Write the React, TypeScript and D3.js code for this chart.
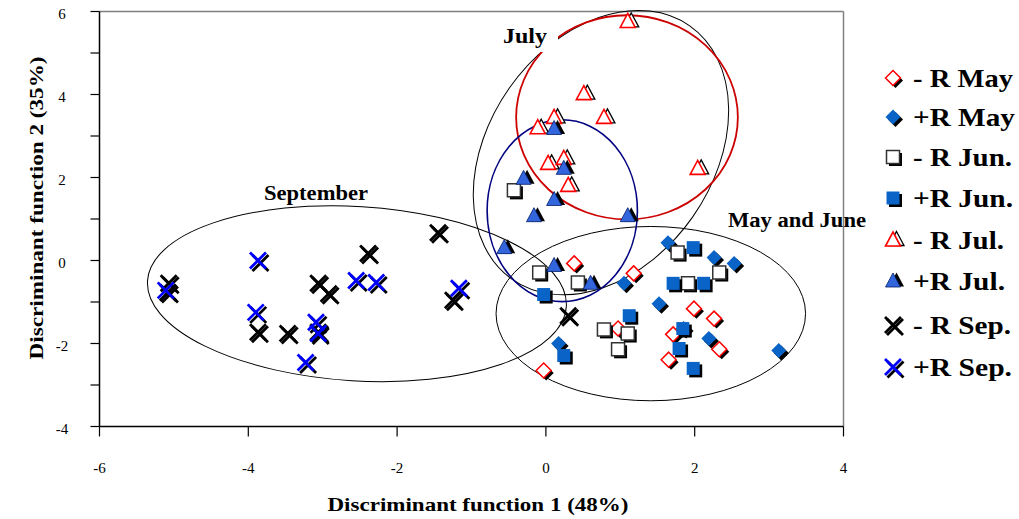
import React from "react";
import * as d3 from "d3";

// ---- data (discriminant function scores) ----
const minusMay: [number, number][] = [
  [0.38, -0.07], [1.18, -0.31], [1.99, -1.16], [2.26, -1.40], [1.71, -1.78],
  [2.33, -2.14], [1.65, -2.39], [-0.03, -2.65], [0.97, -1.64],
];
const plusMay: [number, number][] = [
  [1.64, 0.43], [2.26, 0.07], [2.53, -0.07], [1.05, -0.55], [1.52, -1.04],
  [2.19, -1.88], [3.13, -2.17], [0.17, -2.0], [1.85, -1.64],
];
const minusJun: [number, number][] = [
  [-0.43, 1.69], [-0.09, -0.29], [0.43, -0.53], [1.77, 0.19], [2.33, -0.29],
  [1.91, -0.55], [0.78, -1.66], [1.1, -1.76], [0.97, -2.14],
];
const plusJun: [number, number][] = [
  [-0.03, -0.82], [1.98, 0.31], [1.71, -0.55], [2.12, -0.55], [1.12, -1.33],
  [1.84, -1.64], [1.79, -2.12], [1.98, -2.6], [0.24, -2.29],
];
const minusJul: [number, number][] = [
  [1.1, 5.76], [0.51, 4.02], [0.78, 3.45], [0.11, 3.45], [-0.11, 3.2],
  [2.04, 2.22], [0.03, 2.34], [0.24, 2.46], [0.3, 1.81],
];
const plusJul: [number, number][] = [
  [0.6, -0.55], [0.11, 3.18], [0.24, 2.22], [-0.3, 1.98], [0.11, 1.47],
  [-0.16, 1.08], [1.1, 1.08], [-0.56, 0.31], [0.11, -0.12],
];
const minusSep: [number, number][] = [
  [-5.07, -0.55], [-5.08, -0.77], [-3.87, -1.73], [-3.47, -1.76], [-3.06, -0.55],
  [-2.92, -0.8], [-3.06, -1.73], [-2.39, 0.17], [-1.45, 0.67], [-1.25, -0.96],
  [0.3, -1.33],
];
const plusSep: [number, number][] = [
  [-5.11, -0.72], [-3.87, 0.0], [-3.9, -1.25], [-3.09, -1.49], [-3.06, -1.76],
  [-3.23, -2.46], [-2.55, -0.48], [-2.28, -0.53], [-1.17, -0.67],
];

// group ellipses: centre (data), radii (data units), rotation (deg)
const ellipseNames = ["September", "MayJune", "JulyAll", "JulyMinus", "JulyPlus"];
const ellipseCentres: [number, number][] = [[-2.54, -0.8], [1.41, -1.28], [0.74, 2.6], [1.09, 3.45], [0.22, 1.2]];
const ellipseRadii: [number, number][] = [[2.82, 2.1], [2.08, 2.1], [2.08, 2.7], [1.49, 2.46], [1.01, 2.19]];
const ellipseAngles = [3.5, 0, -55, 0, 0];

const xTicks = [-6, -4, -2, 0, 2, 4];
const yTicks = [-4, -3, -2, -1, 0, 1, 2, 3, 4, 5, 6];
const yTickLabels = [-4, -2, 0, 2, 4, 6];

const legendLabels = ["- R May", "+R May", "- R Jun.", "+R Jun.", "- R Jul.", "+R Jul.", "- R Sep.", "+R Sep."];
const groupLabels = ["July", "September", "May and June"];

const FONT = "'Times New Roman', 'Liberation Serif', serif";
const BLUE = "#0a64c8";

const x = d3.scaleLinear().domain([-6, 4]).range([99.5, 843.5]);
const y = d3.scaleLinear().domain([-4, 6]).range([426.5, 11.5]);

type Kind = "mMay" | "pMay" | "mJun" | "pJun" | "mJul" | "pJul" | "mSep" | "pSep";

const diamond = "M0,-7.5L7.5,0L0,7.5L-7.5,0Z";
const square = "M-6.5,-6.5H6.5V6.5H-6.5Z";
const tri = "M0,-8L7.5,6L-7.5,6Z";
const cross = "M-8,-8L8,8M8,-8L-8,8";

function Marker({ kind, cx, cy }: { kind: Kind; cx: number; cy: number }) {
  const t = (dx: number, dy: number) => `translate(${cx + dx},${cy + dy})`;
  switch (kind) {
    case "mMay":
      return (
        <g>
          <path d={diamond} transform={t(2.5, 2.5)} fill="#000" />
          <path d={diamond} transform={t(0, 0)} fill="#fff" stroke="#ff0000" strokeWidth={1.5} />
        </g>
      );
    case "pMay":
      return (
        <g>
          <path d={diamond} transform={t(2.5, 2.5)} fill="#000" />
          <path d={diamond} transform={t(0, 0)} fill={BLUE} />
        </g>
      );
    case "mJun":
      return (
        <g>
          <path d={square} transform={t(2.5, 2.5)} fill="#000" />
          <path d={square} transform={t(0, 0)} fill="#fff" stroke="#333" strokeWidth={1.5} />
        </g>
      );
    case "pJun":
      return (
        <g>
          <path d={square} transform={t(2.5, 2.5)} fill="#000" />
          <path d={square} transform={t(0, 0)} fill={BLUE} />
        </g>
      );
    case "mJul":
      return (
        <g>
          <path d={tri} transform={t(3.5, -0.5)} fill="#fff" stroke="#000" strokeWidth={1.3} />
          <path d={tri} transform={t(0, 0)} fill="#fff" stroke="#ff0000" strokeWidth={1.6} />
        </g>
      );
    case "pJul":
      return (
        <g>
          <path d={tri} transform={t(3.5, -0.5)} fill="#000" />
          <path d={tri} transform={t(0, 0)} fill="#3366dd" stroke="#001a66" strokeWidth={0.8} />
        </g>
      );
    case "mSep":
      return (
        <g>
          <path d={cross} transform={t(2, 2)} stroke="#000" strokeWidth={2.8} fill="none" />
          <path d={cross} transform={t(0, 0)} stroke="#000" strokeWidth={2.8} fill="none" />
        </g>
      );
    case "pSep":
      return (
        <g>
          <path d={cross} transform={t(2.5, 2.5)} stroke="#000" strokeWidth={2.8} fill="none" />
          <path d={cross} transform={t(0, 0)} stroke="#0000ff" strokeWidth={2.8} fill="none" />
        </g>
      );
  }
  return null;
}

const series: { kind: Kind; pts: [number, number][] }[] = [
  { kind: "mMay", pts: minusMay },
  { kind: "pMay", pts: plusMay },
  { kind: "mJun", pts: minusJun },
  { kind: "pJun", pts: plusJun },
  { kind: "mJul", pts: minusJul },
  { kind: "pJul", pts: plusJul },
  { kind: "mSep", pts: minusSep },
  { kind: "pSep", pts: plusSep },
];

const ellipseColors = ["#000", "#000", "#000", "#cc0000", "#000080"];
const ellipseWidths = [1, 1, 1, 1.8, 1.6];

const legendKinds: Kind[] = ["mMay", "pMay", "mJun", "pJun", "mJul", "pJul", "mSep", "pSep"];
const legendY = [78, 117, 157, 198, 240, 281, 325, 367];
const legendLen = [100, 102, 99, 100, 91, 92, 98, 99];

export default function App() {
  const kx = x(1) - x(0);
  const ky = y(0) - y(1);
  return (
    <svg width={1019} height={519} style={{ position: "absolute", left: 0, top: 0, background: "#fff" }}>
      <rect x={0} y={0} width={1019} height={519} fill="#fff" />
      {/* plot frame */}
      <line x1={x(-6)} x2={x(4)} y1={y(6)} y2={y(6)} stroke="#808080" strokeWidth={1.5} />
      <line x1={x(4)} x2={x(4)} y1={y(6)} y2={y(-4)} stroke="#808080" strokeWidth={1.5} />
      {/* ellipses */}
      {ellipseNames.map((n, i) => (
        <ellipse
          key={n}
          cx={0}
          cy={0}
          rx={ellipseRadii[i][0] * kx}
          ry={ellipseRadii[i][1] * ky}
          transform={`translate(${x(ellipseCentres[i][0])},${y(ellipseCentres[i][1])}) rotate(${ellipseAngles[i]})`}
          fill="none"
          stroke={ellipseColors[i]}
          strokeWidth={ellipseWidths[i]}
        />
      ))}
      {/* axes */}
      <line x1={x(-6)} x2={x(-6)} y1={y(6)} y2={y(-4)} stroke="#000" strokeWidth={1.5} />
      <line x1={x(-6)} x2={x(4)} y1={y(-4)} y2={y(-4)} stroke="#000" strokeWidth={1.5} />
      {yTicks.map((v) => (
        <line key={"yt" + v} x1={x(-6) - 9} x2={x(-6)} y1={y(v)} y2={y(v)} stroke="#000" strokeWidth={1.2} />
      ))}
      {xTicks.map((v) => (
        <line key={"xt" + v} x1={x(v)} x2={x(v)} y1={y(-4)} y2={y(-4) + 10} stroke="#000" strokeWidth={1.2} />
      ))}
      {yTickLabels.map((v) => (
        <text key={"yl" + v} x={62} y={y(v) + 7} textAnchor="middle" fontFamily={FONT} fontSize={15}>
          {v}
        </text>
      ))}
      {xTicks.map((v) => (
        <text key={"xl" + v} x={x(v)} y={473} textAnchor="middle" fontFamily={FONT} fontSize={15}>
          {v}
        </text>
      ))}
      <text x={478} y={511} textAnchor="middle" fontFamily={FONT} fontSize={19} fontWeight="bold" textLength={301} lengthAdjust="spacingAndGlyphs">
        Discriminant function 1 (48%)
      </text>
      <text transform="translate(43,208) rotate(-90)" textAnchor="middle" fontFamily={FONT} fontSize={19} fontWeight="bold" textLength={303} lengthAdjust="spacingAndGlyphs">
        Discriminant function 2 (35%)
      </text>
      {/* group labels */}
      <rect x={499} y={24} width={59} height={28} fill="#fff" />
      <text x={525} y={43} textAnchor="middle" fontFamily={FONT} fontSize={20} fontWeight="bold" textLength={44} lengthAdjust="spacingAndGlyphs">
        {groupLabels[0]}
      </text>
      <text x={316} y={200} textAnchor="middle" fontFamily={FONT} fontSize={20} fontWeight="bold" textLength={104} lengthAdjust="spacingAndGlyphs">
        {groupLabels[1]}
      </text>
      <text x={797} y={227} textAnchor="middle" fontFamily={FONT} fontSize={20} fontWeight="bold" textLength={138} lengthAdjust="spacingAndGlyphs">
        {groupLabels[2]}
      </text>
      {/* markers */}
      {series.map((s) => (
        <g key={s.kind}>
          {s.pts.map((p, j) => (
            <Marker key={j} kind={s.kind} cx={x(p[0])} cy={y(p[1])} />
          ))}
        </g>
      ))}
      {/* legend */}
      {legendLabels.map((l, i) => (
        <g key={l}>
          <Marker kind={legendKinds[i]} cx={893} cy={legendY[i]} />
          <text x={913} y={legendY[i] + 9} fontFamily={FONT} fontSize={25} fontWeight="bold" textLength={legendLen[i]} lengthAdjust="spacingAndGlyphs">
            {l}
          </text>
        </g>
      ))}
    </svg>
  );
}
